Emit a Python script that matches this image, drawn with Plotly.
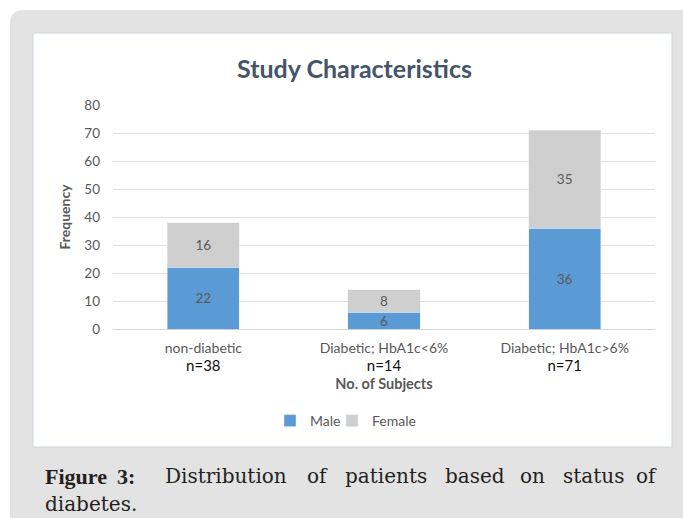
import plotly.graph_objects as go

categories = ["non-diabetic", "Diabetic; HbA1c<6%", "Diabetic; HbA1c>6%"]
totals = ["n=38", "n=14", "n=71"]
male = [22, 6, 36]
female = [16, 8, 35]
y_ticks = [0, 10, 20, 30, 40, 50, 60, 70, 80]

W, H = 683, 518
def px(x): return x / W
def py(y): return 1 - y / H

BLUE = "#5b9bd5"
GRAY = "#cfcfcf"
TXT = "#595959"
FONT = "Lato"

ticktext = [f"<span style='color:{TXT}'>{c}</span><br><span style='color:#111;font-size:15px'>{n}</span>"
            for c, n in zip(categories, totals)]

fig = go.Figure()
fig.add_trace(go.Bar(name="Male", x=categories, y=male, marker_color=BLUE, legend="legend",
                     text=male, textposition="inside", insidetextanchor="middle", textangle=0,
                     textfont=dict(color=TXT, size=13.5, family=FONT)))
fig.add_trace(go.Bar(name="Female", x=categories, y=female, marker_color=GRAY, legend="legend2",
                     text=female, textposition="inside", insidetextanchor="middle", textangle=0,
                     textfont=dict(color=TXT, size=13.5, family=FONT)))

# background panel with rounded left corners
r = 14
x0, y0, x1, y1 = 10, 10, 700, 530
path = (f"M {px(x0+r)},{py(y0)} L {px(x1)},{py(y0)} L {px(x1)},{py(y1)} "
        f"L {px(x0+r)},{py(y1)} Q {px(x0)},{py(y1)} {px(x0)},{py(y1-r)} "
        f"L {px(x0)},{py(y0+r)} Q {px(x0)},{py(y0)} {px(x0+r)},{py(y0)} Z")
shapes = [
    dict(type="path", path=path, xref="paper", yref="paper", fillcolor="#e3e3e3",
         line=dict(width=0), layer="below"),
    dict(type="rect", xref="paper", yref="paper", x0=px(33), x1=px(672), y0=py(33), y1=py(447),
         fillcolor="white", line=dict(color="#cdd6e0", width=1), layer="below"),
]

annotations = [dict(text="<b>Study Characteristics</b>", x=px(354), y=py(68), xref="paper", yref="paper",
                    showarrow=False, font=dict(family=FONT, size=25, color="#44546a"),
                    xanchor="center", yanchor="middle")]

cap_words = [("<b>Figure</b>", 43, "left", "Liberation Serif", 22),
             ("<b>3:</b>", 115, "left", "Liberation Serif", 22),
             ("Distribution", 163, "left", "DejaVu Serif", 20),
             ("of", 305, "left", "DejaVu Serif", 20),
             ("patients", 343, "left", "DejaVu Serif", 20),
             ("based", 443, "left", "DejaVu Serif", 20),
             ("on", 518, "left", "DejaVu Serif", 20),
             ("status", 561, "left", "DejaVu Serif", 20),
             ("of", 659, "right", "DejaVu Serif", 20)]
for w, x, anc, fam, sz in cap_words:
    annotations.append(dict(text=w, x=px(x), y=py(476), xref="paper", yref="paper", showarrow=False,
                            xanchor=anc, yanchor="middle",
                            font=dict(family=fam, size=sz, color="#231f20")))
annotations.append(dict(text="diabetes.", x=px(43), y=py(504), xref="paper", yref="paper", showarrow=False,
                        xanchor="left", yanchor="middle",
                        font=dict(family="DejaVu Serif", size=20, color="#231f20")))

legend_common = dict(orientation="h", y=py(421), xanchor="left", yanchor="middle",
                     font=dict(family=FONT, size=14, color=TXT), bgcolor="rgba(0,0,0,0)",
                     itemwidth=30)

fig.update_layout(
    width=W, height=H, autosize=False,
    margin=dict(l=0, r=0, t=0, b=0, autoexpand=False),
    paper_bgcolor="white", plot_bgcolor="white",
    barmode="stack", bargap=0.6,
    font=dict(family=FONT, color=TXT),
    uniformtext=dict(minsize=12, mode="show"),
    shapes=shapes, annotations=annotations,
    showlegend=True,
    legend=dict(x=px(270), **legend_common),
    legend2=dict(x=px(332), **legend_common),
    xaxis=dict(domain=[px(113), px(655)], tickmode="array", tickvals=categories, ticktext=ticktext,
               tickfont=dict(family=FONT, size=14, color=TXT), showgrid=False, showline=False,
               ticks="", ticklabelstandoff=9, automargin=False,
               title=dict(text="<b>No. of Subjects</b>", font=dict(family=FONT, size=14.5, color=TXT),
                          standoff=5)),
    yaxis=dict(domain=[py(329), py(105)], range=[0, 80], tickvals=y_ticks,
               tickfont=dict(family=FONT, size=13.5, color=TXT), showgrid=True, gridcolor="#dde2e8",
               gridwidth=1, zeroline=True, zerolinecolor="#cfd5dc", zerolinewidth=1,
               showline=False, ticks="", ticklabelstandoff=12, automargin=False,
               title=dict(text="<b>Frequency</b>", font=dict(family=FONT, size=14, color=TXT), standoff=10)),
)

fig.write_html(
    "out.html",
    config={"displayModeBar": False},
    post_script="document.body.style.margin='0';",
)
